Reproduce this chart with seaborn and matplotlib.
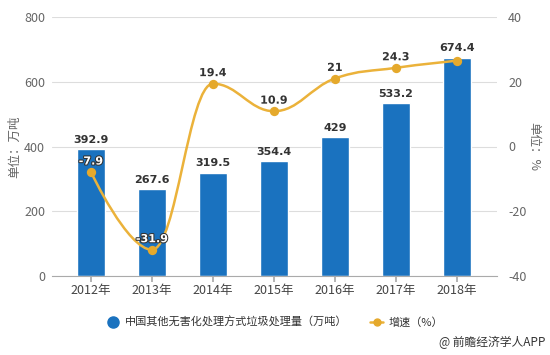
import numpy as np
import pandas as pd
import matplotlib
matplotlib.use("Agg")
import matplotlib.pyplot as plt
import matplotlib.patheffects as pe
from matplotlib.path import Path
from matplotlib.patches import PathPatch
from matplotlib.lines import Line2D
import seaborn as sns

# data
years = ["2012年", "2013年", "2014年", "2015年", "2016年", "2017年", "2018年"]
volume = [392.9, 267.6, 319.5, 354.4, 429, 533.2, 674.4]
growth = [-7.9, -31.9, 19.4, 10.9, 21, 24.3, 26.5]
growth_labels = ["-7.9", "-31.9", "19.4", "10.9", "21", "24.3", ""]

bar_color = "#1A72BF"
line_color = "#EBB23A"
text_grey = "#666666"

sns.set_theme(style="white")
plt.rcParams["font.family"] = ["Noto Sans CJK SC", "DejaVu Sans"]
plt.rcParams["axes.unicode_minus"] = False

df = pd.DataFrame({"year": years, "volume": volume})

fig = plt.figure(figsize=(5.5, 3.55), dpi=100)
ax = fig.add_axes([52 / 550, 1 - 276 / 355, 445 / 550, 259 / 355])
sns.barplot(data=df, x="year", y="volume", color=bar_color, width=0.46,
            saturation=1, ax=ax, zorder=2)
ax.set_xlim(-0.64, 6.66)
ax.set_ylim(0, 800)
ax.set_yticks([0, 200, 400, 600, 800])
ax.grid(axis="y", color="#DDDDDD", linewidth=0.8, zorder=0)
ax.set_axisbelow(True)
for s in ["top", "right", "left"]:
    ax.spines[s].set_visible(False)
ax.spines["bottom"].set_color("#AAAAAA")
ax.spines["bottom"].set_linewidth(0.8)
ax.tick_params(axis="y", length=0, labelsize=9, labelcolor=text_grey, pad=5)
ax.tick_params(axis="x", length=4, color="#AAAAAA", direction="out",
               labelsize=9, labelcolor="#444444", pad=2, bottom=True)
ax.set_xlabel("")
ax.set_ylabel("单位：万吨", fontsize=9, color=text_grey, labelpad=2)

for i, v in enumerate(volume):
    ax.annotate(f"{v:g}", (i, v), xytext=(0, 3), textcoords="offset points",
                ha="center", va="bottom", fontsize=8, fontweight="bold",
                family="DejaVu Sans", color="#333333", zorder=5)

# secondary axis with smooth line
ax2 = ax.twinx()
ax2.set_ylim(-40, 40)
ax2.set_yticks([-40, -20, 0, 20, 40])
for s in ax2.spines.values():
    s.set_visible(False)
ax2.tick_params(axis="y", length=0, labelsize=9, labelcolor=text_grey, pad=8)
ax2.set_ylabel("单位：%", fontsize=9, color=text_grey, rotation=-90,
               labelpad=10)

# spline path (highcharts style control points)
xs = np.arange(len(growth), dtype=float)
ys = np.array(growth, dtype=float)
# scale y to roughly pixel aspect so smoothing behaves like on screen
sx, sy = 61.0, 259.0 / 80.0
verts = [(xs[0], ys[0])]
codes = [Path.MOVETO]
sm = 1.5
left_c, right_c = [], []
for i in range(len(xs)):
    px, py = xs[i] * sx, ys[i] * sy
    if i == 0 or i == len(xs) - 1:
        left_c.append((px, py))
        right_c.append((px, py))
        continue
    lx, ly = xs[i - 1] * sx, ys[i - 1] * sy
    nx, ny = xs[i + 1] * sx, ys[i + 1] * sy
    lcx = (sm * px + lx) / (sm + 1)
    lcy = (sm * py + ly) / (sm + 1)
    rcx = (sm * px + nx) / (sm + 1)
    rcy = (sm * py + ny) / (sm + 1)
    corr = ((rcy - lcy) * (rcx - px)) / (rcx - lcx) + py - rcy
    lcy += corr
    rcy += corr
    if lcy > ly and lcy > py:
        lcy = max(ly, py)
        rcy = 2 * py - lcy
    elif lcy < ly and lcy < py:
        lcy = min(ly, py)
        rcy = 2 * py - lcy
    if rcy > ny and rcy > py:
        rcy = max(ny, py)
        lcy = 2 * py - rcy
    elif rcy < ny and rcy < py:
        rcy = min(ny, py)
        lcy = 2 * py - rcy
    left_c.append((lcx, lcy))
    right_c.append((rcx, rcy))
for i in range(1, len(xs)):
    c1 = right_c[i - 1]
    c2 = left_c[i]
    verts += [(c1[0] / sx, c1[1] / sy), (c2[0] / sx, c2[1] / sy), (xs[i], ys[i])]
    codes += [Path.CURVE4] * 3
ax2.add_patch(PathPatch(Path(verts, codes), facecolor="none",
                        edgecolor=line_color, linewidth=1.8, zorder=3))
ax2.scatter(xs, ys, s=45, color="#E5A92C", zorder=4, linewidths=0)

for i, (v, lab) in enumerate(zip(growth, growth_labels)):
    if not lab:
        continue
    if v < 0:
        ax2.annotate(lab, (i, v), xytext=(0, 4), textcoords="offset points",
                     ha="center", va="bottom", fontsize=8, fontweight="bold",
                     family="DejaVu Sans", color="white", zorder=6,
                     path_effects=[pe.withStroke(linewidth=1.5, foreground="#333333")])
    else:
        ax2.annotate(lab, (i, v), xytext=(0, 4), textcoords="offset points",
                     ha="center", va="bottom", fontsize=8, fontweight="bold",
                     family="DejaVu Sans", color="#333333", zorder=6,
                     path_effects=[pe.withStroke(linewidth=2, foreground="white")])

# legend
handles = [
    Line2D([0], [0], marker="o", linestyle="none", markersize=8,
           markerfacecolor=bar_color, markeredgecolor=bar_color),
    Line2D([0], [0], marker="o", color=line_color, linewidth=1.8,
           markersize=5, markerfacecolor="#E5A92C", markeredgecolor="#E5A92C"),
]
fig.legend(handles, ["中国其他无害化处理方式垃圾处理量（万吨）", "增速（%）"],
           loc="center", bbox_to_anchor=(0.5, 1 - 322 / 355), ncol=2,
           frameon=False, fontsize=8, handlelength=1.2, columnspacing=2.0,
           handletextpad=0.5, labelcolor="#333333")

fig.text(545 / 550, 1 - 342 / 355, "@ 前瞻经济学人APP", ha="right", va="center",
         fontsize=8.5, color="#333333")

fig.savefig("out.png", dpi=100)
